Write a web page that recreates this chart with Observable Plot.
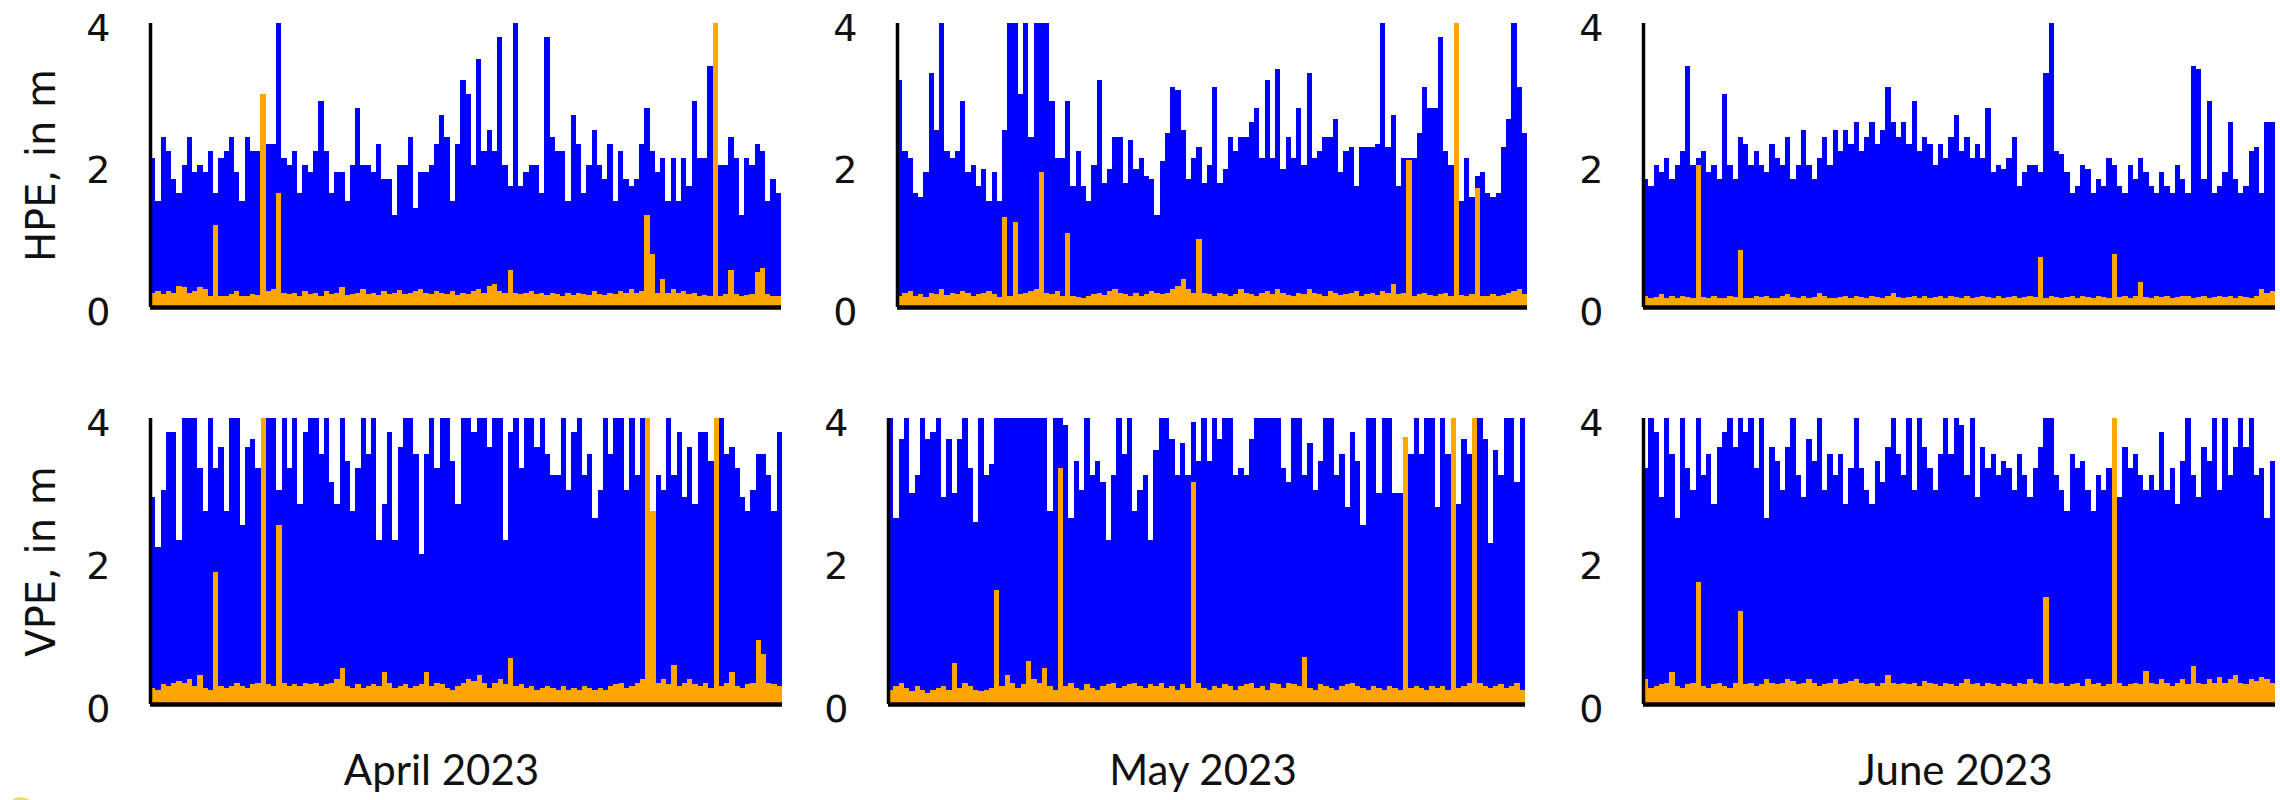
<!DOCTYPE html>
<html>
<head>
<meta charset="utf-8">
<script src="https://cdn.jsdelivr.net/npm/d3@7"></script>
<script src="https://cdn.jsdelivr.net/npm/@observablehq/plot@0.6"></script>
<style>
html, body { margin: 0; padding: 0; background: #fff; }
#chart { position: relative; width: 2280px; height: 800px; overflow: hidden; background: #fff; }
#chart svg { position: absolute; max-width: none; overflow: visible; }
.dot { position: absolute; left: 6px; top: 797px; width: 30px; height: 30px; border-radius: 50%; background: #fbd968; }
</style>
</head>
<body>
<div id="chart"><div class="dot"></div></div>
<script>
// ---------- labels ----------
const months = ["April 2023", "May 2023", "June 2023"];
const rowTitles = ["HPE, in m", "VPE, in m"];
const yTicks = [0, 2, 4];

// ---------- HPE (row 1) ----------
const hpeAprilBlue = [2.1,1.5,2.4,2.2,1.8,1.6,2.0,2.4,1.9,2.0,
 1.9,2.2,1.6,2.1,2.2,2.4,1.9,1.5,2.4,2.2,
 2.2,2.0,2.3,2.3,4.0,2.1,2.0,2.2,1.6,2.0,
 1.9,2.2,2.9,2.2,1.6,1.9,1.9,1.5,2.0,2.8,
 2.0,2.0,1.9,2.3,1.8,1.8,1.3,2.0,2.0,2.4,
 1.4,1.9,1.9,2.0,2.3,2.7,2.4,1.5,2.3,3.2,
 3.0,2.0,3.5,2.2,2.5,2.2,3.8,2.0,1.7,4.0,
 1.7,1.9,2.0,2.0,1.6,3.8,2.4,2.2,2.2,1.5,
 2.7,2.3,1.6,2.0,2.5,2.0,1.8,2.3,1.5,2.2,
 1.8,1.7,1.8,2.3,2.8,2.2,1.9,2.1,1.5,2.1,
 1.5,2.1,1.7,2.9,2.1,2.1,3.4,2.5,2.0,2.0,
 2.4,2.1,1.3,2.1,2.0,2.3,2.2,1.5,1.8,1.6];
const hpeAprilOrange = [0.2,0.22,0.18,0.22,0.2,0.3,0.28,0.2,0.22,0.28,
 0.25,0.15,1.15,0.15,0.15,0.18,0.22,0.16,0.15,0.18,
 0.17,3.0,0.22,0.25,1.6,0.2,0.18,0.2,0.15,0.22,
 0.18,0.2,0.15,0.22,0.18,0.2,0.28,0.17,0.18,0.2,
 0.26,0.18,0.2,0.17,0.22,0.19,0.2,0.24,0.18,0.2,
 0.22,0.25,0.2,0.18,0.22,0.2,0.18,0.22,0.17,0.2,
 0.18,0.22,0.25,0.2,0.3,0.32,0.22,0.2,0.52,0.2,
 0.18,0.2,0.22,0.18,0.2,0.17,0.2,0.18,0.16,0.2,
 0.17,0.2,0.18,0.17,0.22,0.18,0.17,0.2,0.18,0.22,
 0.2,0.25,0.2,0.22,1.3,0.75,0.2,0.4,0.2,0.25,
 0.2,0.22,0.18,0.2,0.16,0.17,0.15,4.5,0.16,0.18,
 0.52,0.18,0.16,0.17,0.18,0.5,0.55,0.18,0.16,0.15];

const hpeMayBlue = [3.2,2.2,2.1,1.6,1.55,1.9,3.3,2.5,4.5,2.2,
 2.1,2.2,2.9,1.9,2.0,1.7,1.95,1.5,1.9,1.5,
 2.5,4.5,4.5,3.0,4.5,2.4,4.5,4.5,4.5,2.9,
 2.1,2.1,2.9,1.7,2.2,1.7,1.5,2.0,3.2,1.75,
 1.95,2.4,2.4,1.75,2.35,1.95,2.1,1.85,1.8,1.3,
 2.05,2.45,3.1,3.05,2.5,1.8,2.1,2.25,1.75,2.0,
 3.1,1.75,1.95,2.4,2.2,2.4,2.4,2.6,2.8,2.1,
 3.2,2.1,3.35,1.95,2.4,2.1,2.8,2.0,3.3,2.1,
 2.2,2.4,2.4,2.65,1.9,2.2,2.25,1.7,2.25,2.25,
 2.25,2.3,4.5,2.25,2.7,1.7,2.1,2.1,2.1,2.45,
 3.1,2.8,2.8,3.8,2.2,2.0,2.0,1.5,2.1,1.55,
 1.85,1.9,1.6,1.55,1.6,2.25,2.65,4.5,3.1,2.45];
const hpeMayOrange = [0.15,0.2,0.22,0.15,0.18,0.14,0.2,0.18,0.25,0.17,
 0.2,0.18,0.22,0.2,0.15,0.18,0.2,0.22,0.18,0.14,
 1.27,0.16,1.2,0.18,0.2,0.22,0.25,1.9,0.2,0.18,
 0.22,0.16,1.04,0.15,0.14,0.13,0.15,0.18,0.2,0.17,
 0.22,0.25,0.2,0.18,0.16,0.2,0.15,0.18,0.22,0.2,
 0.18,0.2,0.25,0.3,0.39,0.25,0.2,0.96,0.2,0.18,
 0.16,0.2,0.18,0.15,0.18,0.25,0.2,0.18,0.16,0.2,
 0.22,0.18,0.25,0.2,0.17,0.15,0.2,0.18,0.25,0.2,
 0.18,0.15,0.22,0.2,0.17,0.18,0.2,0.22,0.15,0.18,
 0.2,0.17,0.22,0.2,0.33,0.18,0.2,2.07,0.16,0.18,
 0.2,0.17,0.16,0.18,0.2,0.15,4.5,0.17,0.16,0.18,
 1.68,0.16,0.15,0.18,0.16,0.17,0.2,0.22,0.25,0.18];

const hpeJuneBlue = [1.8,1.7,2.0,1.9,2.1,1.8,2.0,2.2,3.4,2.0,
 2.1,2.2,1.9,2.0,1.8,3.0,2.0,1.8,2.4,2.3,
 2.0,2.2,2.0,1.9,2.3,2.1,2.0,2.4,1.8,2.0,
 2.5,2.0,1.8,2.1,2.4,2.0,2.5,2.2,2.5,2.3,
 2.6,2.2,2.4,2.6,2.3,2.5,3.1,2.6,2.4,2.6,
 2.3,2.9,2.2,2.4,2.3,2.0,2.3,2.1,2.4,2.7,
 2.2,2.4,2.1,2.3,2.1,2.8,1.9,2.0,1.95,2.1,
 2.4,1.7,1.9,2.0,2.0,1.9,3.3,4.5,2.2,2.15,
 1.9,1.6,1.7,2.0,1.95,1.6,1.8,1.7,2.1,2.0,
 1.7,1.6,2.0,1.8,2.1,1.9,1.7,1.6,1.9,1.7,
 1.6,2.0,1.8,1.6,3.4,3.35,1.8,2.9,1.6,1.7,
 1.9,2.6,1.8,1.6,1.7,2.2,2.25,1.6,2.6,2.6];
const hpeJuneOrange = [0.15,0.12,0.14,0.18,0.12,0.15,0.13,0.16,0.14,0.12,
 2.0,0.14,0.12,0.15,0.13,0.12,0.16,0.14,0.8,0.13,
 0.12,0.15,0.14,0.16,0.13,0.12,0.15,0.18,0.14,0.12,
 0.15,0.13,0.14,0.2,0.15,0.13,0.12,0.14,0.16,0.13,
 0.15,0.14,0.12,0.16,0.14,0.13,0.15,0.2,0.14,0.12,
 0.14,0.16,0.13,0.15,0.12,0.14,0.16,0.13,0.15,0.14,
 0.13,0.15,0.12,0.14,0.16,0.14,0.13,0.15,0.12,0.14,
 0.15,0.13,0.14,0.16,0.14,0.7,0.13,0.15,0.14,0.12,
 0.14,0.16,0.13,0.15,0.14,0.13,0.16,0.14,0.13,0.75,
 0.14,0.15,0.13,0.16,0.35,0.14,0.13,0.15,0.14,0.16,
 0.13,0.14,0.16,0.15,0.13,0.14,0.15,0.13,0.14,0.16,
 0.14,0.15,0.13,0.16,0.14,0.13,0.15,0.25,0.2,0.22];

// ---------- VPE (row 2) ----------
const vpeAprilBlue = [2.9,2.2,3.0,3.8,3.8,2.3,4.5,4.5,4.5,3.3,
 2.7,4.5,3.3,3.6,2.7,4.5,4.5,2.5,3.6,3.7,
 3.3,4.5,4.5,4.5,3.0,4.5,3.3,4.5,2.8,3.8,
 4.5,4.5,3.5,4.5,3.1,2.8,4.5,3.4,2.7,3.3,
 4.5,3.5,4.5,2.3,2.8,3.8,2.3,3.6,4.5,4.5,
 3.5,2.1,3.5,4.5,3.3,4.5,4.5,3.4,2.8,4.5,
 4.5,3.8,4.5,4.5,3.6,4.5,4.5,2.3,3.8,4.5,
 3.3,4.5,4.5,3.6,4.5,3.5,3.2,3.2,4.5,3.0,
 3.8,4.5,3.2,3.5,2.6,3.0,4.5,3.5,4.5,4.5,
 3.0,4.5,3.2,4.5,4.5,2.7,3.2,3.0,4.5,3.2,
 3.8,2.9,3.6,2.8,3.8,3.8,3.4,4.5,4.5,3.5,
 3.6,3.3,2.9,2.7,3.0,3.5,3.5,3.2,2.7,3.8];
const vpeAprilOrange = [0.22,0.2,0.28,0.25,0.3,0.32,0.3,0.35,0.25,0.4,
 0.22,0.2,1.85,0.25,0.22,0.25,0.3,0.25,0.22,0.28,
 0.3,4.5,0.28,0.25,2.5,0.3,0.25,0.28,0.25,0.3,
 0.28,0.3,0.25,0.28,0.3,0.35,0.5,0.25,0.22,0.28,
 0.22,0.25,0.28,0.25,0.45,0.3,0.22,0.25,0.28,0.22,
 0.25,0.28,0.45,0.25,0.3,0.28,0.22,0.2,0.25,0.3,
 0.35,0.32,0.4,0.3,0.22,0.3,0.35,0.28,0.65,0.25,
 0.28,0.22,0.25,0.2,0.22,0.25,0.22,0.2,0.25,0.2,
 0.22,0.2,0.25,0.22,0.2,0.22,0.2,0.25,0.28,0.3,
 0.22,0.25,0.3,0.35,4.5,2.7,0.3,0.35,0.28,0.55,
 0.25,0.3,0.35,0.28,0.25,0.3,0.22,4.5,0.25,0.3,
 0.45,0.25,0.22,0.28,0.3,0.9,0.7,0.3,0.28,0.25];

const vpeMayBlue = [4.5,2.6,3.7,4.5,2.95,3.2,4.5,3.7,3.8,4.5,
 2.9,3.7,2.95,3.7,4.5,3.3,2.55,4.5,3.2,3.35,
 4.5,4.5,4.5,4.5,4.5,4.5,4.5,4.5,4.5,4.5,
 2.7,4.5,4.5,3.9,2.6,3.4,3.0,4.5,3.2,3.4,
 3.1,2.3,3.2,4.5,3.5,4.5,2.7,3.0,3.2,2.3,
 3.55,4.5,4.5,3.7,3.2,3.65,3.2,3.95,3.4,4.5,
 3.4,4.5,3.7,4.5,4.5,3.2,3.3,3.2,3.7,4.5,
 4.5,4.5,4.5,4.5,3.3,3.1,4.5,4.5,3.2,3.65,
 3.0,3.4,4.5,4.5,3.2,3.5,2.75,3.8,3.4,2.5,
 4.5,4.5,2.95,4.5,4.5,2.95,2.95,3.6,3.5,4.5,
 3.5,4.5,4.5,2.75,4.5,3.5,4.5,2.8,3.7,3.5,
 4.5,4.5,3.7,2.25,3.55,3.2,4.5,4.5,3.1,4.5];
const vpeMayOrange = [0.2,0.25,0.3,0.22,0.18,0.25,0.2,0.15,0.2,0.22,
 0.25,0.2,0.58,0.22,0.3,0.25,0.2,0.18,0.2,0.22,
 1.6,0.25,0.4,0.3,0.22,0.28,0.6,0.35,0.3,0.5,
 0.25,0.2,3.3,0.25,0.3,0.22,0.2,0.28,0.22,0.2,
 0.25,0.28,0.3,0.22,0.25,0.28,0.3,0.25,0.22,0.28,
 0.25,0.3,0.22,0.25,0.2,0.28,0.22,3.1,0.3,0.22,
 0.2,0.25,0.22,0.28,0.25,0.2,0.25,0.28,0.3,0.22,
 0.25,0.2,0.3,0.28,0.22,0.3,0.28,0.25,0.66,0.22,
 0.2,0.28,0.25,0.22,0.2,0.25,0.28,0.3,0.25,0.22,
 0.2,0.25,0.22,0.2,0.25,0.22,0.2,3.73,0.22,0.25,
 0.22,0.2,0.25,0.22,0.25,0.2,4.5,0.22,0.25,0.3,
 4.5,0.3,0.25,0.22,0.25,0.28,0.22,0.25,0.3,0.2];

const vpeJuneBlue = [3.3,4.5,3.8,2.9,4.5,3.5,2.6,4.5,3.3,3.0,
 4.5,3.2,3.5,2.8,3.6,3.8,4.5,3.6,4.5,3.8,
 4.5,3.3,4.5,2.6,3.6,3.4,3.0,3.6,4.5,3.2,
 2.9,3.7,3.4,4.5,3.0,3.5,3.2,3.5,2.8,3.3,
 4.5,3.3,3.0,2.8,3.4,3.1,3.6,4.5,3.5,3.2,
 4.5,3.0,4.5,3.6,3.3,3.0,3.5,4.5,3.5,4.5,
 3.9,3.2,4.5,2.9,3.6,3.3,3.5,3.2,3.4,3.3,
 3.0,3.5,3.2,2.9,3.3,3.6,4.5,4.5,3.2,3.0,
 2.7,3.5,3.3,3.4,3.0,2.7,3.2,3.0,3.3,3.0,
 2.9,3.6,3.3,3.5,3.2,3.0,3.2,3.0,3.8,3.0,
 3.3,2.8,3.4,4.5,3.2,2.9,3.6,3.4,4.5,3.0,
 4.5,3.2,3.6,4.5,3.6,4.5,3.2,3.3,2.6,3.4];
const vpeJuneOrange = [0.35,0.22,0.25,0.28,0.3,0.45,0.25,0.22,0.28,0.3,
 1.7,0.25,0.22,0.28,0.3,0.25,0.22,0.3,1.3,0.28,
 0.3,0.25,0.28,0.35,0.3,0.28,0.3,0.35,0.32,0.28,
 0.3,0.35,0.3,0.25,0.28,0.3,0.35,0.28,0.3,0.32,
 0.35,0.3,0.28,0.3,0.25,0.3,0.4,0.3,0.28,0.3,
 0.28,0.3,0.25,0.32,0.3,0.28,0.25,0.3,0.28,0.25,
 0.3,0.35,0.28,0.3,0.25,0.3,0.28,0.25,0.3,0.28,
 0.25,0.3,0.28,0.35,0.3,0.28,1.5,0.3,0.28,0.3,
 0.25,0.28,0.3,0.25,0.35,0.28,0.3,0.25,0.28,4.5,
 0.3,0.25,0.28,0.3,0.28,0.46,0.3,0.28,0.35,0.3,
 0.25,0.3,0.35,0.28,0.53,0.3,0.28,0.35,0.3,0.38,
 0.3,0.35,0.4,0.3,0.28,0.35,0.32,0.38,0.35,0.3];

// ---------- layout ----------
const rowsLayout = [
  {svgTop: 0, mTop: 23, mBottom: 6, height: 313},
  {svgTop: 390, mTop: 28, mBottom: 96, height: 410}
];
const panels = [
  {row: 0, col: 0, blue: hpeAprilBlue, orange: hpeAprilOrange, left: 150, right: 781},
  {row: 0, col: 1, blue: hpeMayBlue, orange: hpeMayOrange, left: 897, right: 1527},
  {row: 0, col: 2, blue: hpeJuneBlue, orange: hpeJuneOrange, left: 1643, right: 2275},
  {row: 1, col: 0, blue: vpeAprilBlue, orange: vpeAprilOrange, left: 150, right: 782, monthDx: -25},
  {row: 1, col: 1, blue: vpeMayBlue, orange: vpeMayOrange, left: 888, right: 1525, monthDx: -4},
  {row: 1, col: 2, blue: vpeJuneBlue, orange: vpeJuneOrange, left: 1643, right: 2275, monthDx: -4}
];

const chart = document.getElementById("chart");
const ML = 150, MR = 4;

function drawPanel(p) {
  const r = rowsLayout[p.row];
  const n = p.blue.length;
  const blueData = p.blue.map((v, i) => ({i, v}));
  const orangeData = p.orange.map((v, i) => ({i, v}));
  const marks = [
    Plot.rect(blueData, {x1: "i", x2: d => d.i + 1, y1: 0, y2: "v", fill: "#0000ff", shapeRendering: "crispEdges", clip: true}),
    Plot.rect(orangeData, {x1: "i", x2: d => d.i + 1, y1: 0, y2: "v", fill: "#ffa500", shapeRendering: "crispEdges", clip: true}),
    Plot.ruleX([0], {stroke: "#000", strokeWidth: 3.5}),
    Plot.ruleY([0], {stroke: "#000", strokeWidth: 4.5}),
    Plot.axisY({ticks: yTicks, tickFormat: d => String(d), tickSize: 0, tickPadding: 40, dy: 5,
      label: null, fill: "#111", fontSize: 38, fontFamily: "DejaVu Sans"})
  ];
  if (p.col === 0) {
    marks.push(Plot.text([rowTitles[p.row]], {
      text: d => d, frameAnchor: "left", rotate: -90, lineAnchor: "top", textAnchor: "middle",
      dx: -124, fontSize: 40, fontFamily: "DejaVu Sans", fill: "#111"
    }));
  }
  if (p.row === 1) {
    marks.push(Plot.text([months[p.col]], {
      text: d => d, frameAnchor: "bottom", lineAnchor: "middle", textAnchor: "middle",
      dy: 67, dx: p.monthDx, fontSize: 42, fontFamily: "Lato", fill: "#111"
    }));
  }
  const svg = Plot.plot({
    width: ML + (p.right - p.left) + MR,
    height: r.height,
    marginLeft: ML, marginRight: MR, marginTop: r.mTop, marginBottom: r.mBottom,
    x: {domain: [0, n], axis: null},
    y: {domain: [0, 4]},
    style: {background: "transparent", fontFamily: "DejaVu Sans", fontSize: "38px", overflow: "visible"},
    marks
  });
  svg.style.left = (p.left - ML) + "px";
  svg.style.top = r.svgTop + "px";
  chart.appendChild(svg);
}
panels.forEach(drawPanel);
</script>
</body>
</html>
